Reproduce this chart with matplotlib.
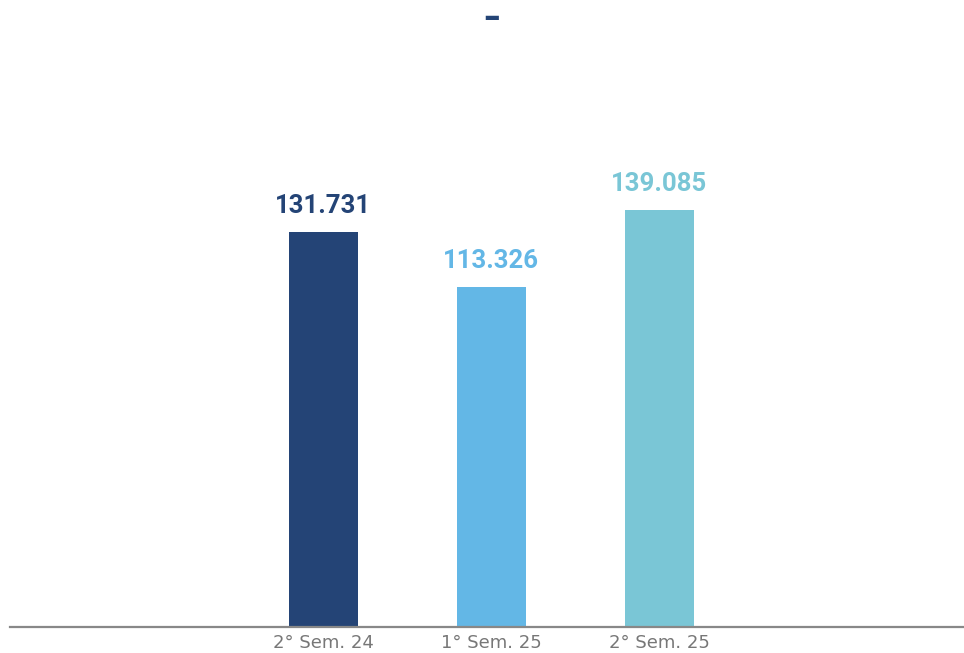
import matplotlib
matplotlib.use("Agg")
import matplotlib.pyplot as plt

categories = ["2° Sem. 24", "1° Sem. 25", "2° Sem. 25"]
values = [131731, 113326, 139085]
labels = ["131.731", "113.326", "139.085"]
colors = ["#244476", "#63B7E6", "#7AC6D6"]

W, H = 964, 653
fig = plt.figure(figsize=(W / 100, H / 100), dpi=100)
ax_left, ax_right = 10, 964
ax_bottom, ax_top = 627, 60
ax = fig.add_axes([ax_left / W, (H - ax_bottom) / H, (ax_right - ax_left) / W, (ax_bottom - ax_top) / H])

px_per_unit = 395 / 131731
ax.set_ylim(0, (ax_bottom - ax_top) / px_per_unit)
spacing = 168
ax.set_xlim(-(323.5 - ax_left) / spacing, 2 + (ax_right - 659) / spacing)

x = list(range(len(categories)))
ax.bar(x, values, width=69 / spacing, color=colors, zorder=2)
for xi, v, lab, c in zip(x, values, labels, colors):
    ax.annotate(lab, (xi, v), xytext=(0, 10), textcoords="offset points",
                ha="center", va="bottom", color=c, fontsize=18.5,
                fontweight="bold", family=["Roboto", "DejaVu Sans"])

for s in ["top", "right", "left"]:
    ax.spines[s].set_visible(False)
ax.spines["bottom"].set_color("#888888")
ax.spines["bottom"].set_linewidth(1.6)
ax.set_yticks([])
ax.set_xticks(x)
ax.set_xticklabels(categories, fontsize=13, color="#777777", family="DejaVu Sans")
ax.tick_params(axis="x", length=0, pad=5)

fig.text(492 / W, 1 - 17 / H, "–", ha="center", va="center", color="#244476",
         fontsize=24, fontweight="bold")

fig.savefig("out.png", dpi=100)
